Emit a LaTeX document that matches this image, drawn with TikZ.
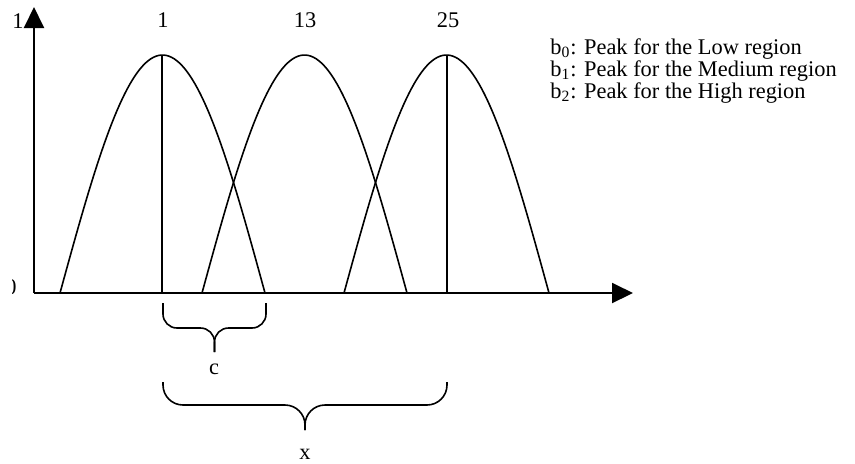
\documentclass[tikz,border=0pt]{standalone}
\usepackage{fontspec}
\setmainfont{Liberation Serif}
\usetikzlibrary{arrows.meta,positioning,calc}

\tikzset{
  axisline/.style={line width=1pt,-{Triangle[length=10.5pt,width=10pt]}},
  arch/.style={line width=0.8pt},
  peakline/.style={line width=0.8pt},
  bracket/.style={line width=0.8pt},
  lbl/.style={font=\fontsize{11.2}{13}\selectfont,inner sep=0pt},
}
% flat curly brace opening upwards: left x, right x, top y, middle y, tip y, corner radius
\newcommand{\flatbrace}[6]{%
  \draw[bracket,rounded corners=#6] (#1,#3) -- (#1,#4) -- ({(#1+#2)/2},#4) -- ({(#1+#2)/2},#5);
  \draw[bracket,rounded corners=#6] (#2,#3) -- (#2,#4) -- ({(#1+#2)/2},#4) -- ({(#1+#2)/2},#5);
}

\begin{document}
\begin{tikzpicture}[x=0.5pt,y=-0.5pt]
\useasboundingbox (0,0) rectangle (855,463);
% axes
\coordinate (o) at (34,293);
\coordinate (ytip) at (34,7);
\coordinate (xtip) at (633,293);
\draw[axisline] (o) -- (ytip);
\draw[axisline] (o) -- (xtip);
\node[lbl] (one) at (18,21) {1};
\begin{scope}
  \clip (12,270) rectangle (20,300);
  \node[lbl,anchor=east] (zero) at (17,287) {0};
\end{scope}

% the three arches
\foreach \c in {162.5,304.5,446.5}
  \draw[arch] plot[domain=-102.5:102.5,samples=80] ({\c+\x},{293-238*cos(\x*90/102.5)});

% peaks
\coordinate (p0) at (162,55);
\coordinate (p2) at (447,55);
\draw[peakline] (p0) -- (p0 |- o);
\draw[peakline] (p2) -- (p2 |- o);
\node[lbl] (n1) at (163,20) {1};
\node[lbl] (n13) at (305,20) {13};
\node[lbl] (n25) at (448,20) {25};

% legend
\node[lbl,anchor=base west] (b0) at (550,54) {b\textsubscript{0}: Peak for the Low region};
\node[lbl,anchor=base west] (b1) at (550,76) {b\textsubscript{1}: Peak for the Medium region};
\node[lbl,anchor=base west] (b2) at (550,98) {b\textsubscript{2}: Peak for the High region};

% braces
\flatbrace{163}{266}{303}{328}{352}{7pt}
\node[lbl] (clbl) at (214,369) {c};
\flatbrace{163}{447}{382}{405}{430}{10pt}
\node[lbl] (xlbl) at (305,454) {x};
\end{tikzpicture}
\end{document}
